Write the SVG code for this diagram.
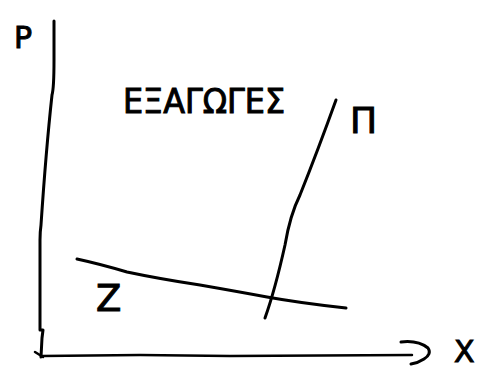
<svg xmlns="http://www.w3.org/2000/svg" width="490" height="376" viewBox="0 0 490 376">
  <style>
    .ln { fill: none; stroke: #000; stroke-width: 3; stroke-linecap: round; stroke-linejoin: round; }
    .thin { fill: none; stroke: #000; stroke-width: 2.5; stroke-linecap: round; stroke-linejoin: round; }
    .lbl { font-family: "DejaVu Sans", "Liberation Sans", sans-serif; fill: #000; stroke: #000; stroke-width: 1; }
  </style>
  <rect width="490" height="376" fill="#fff"/>
  <g id="connectors">
    <g id="y-axis">
      <path class="ln" d="M54,21 L54,60 Q54,88 52,95 Q46,150 41,225 Q40,232 40,240 L40,330 L43,330 L42,338 L41,357"/>
      <path class="thin" d="M35,352 L43,357"/>
    </g>
    <g id="x-axis">
      <path class="thin" d="M42,356 L140,355 L230,356 L412,355"/>
      <path class="ln" d="M401,342 Q418,340 428,348 Q432,354 424,359 Q418,363 411,364"/>
    </g>
    <path id="curve-z" class="ln" d="M77,259 Q100,264 127,272 Q160,279 200,285 Q240,292 267,297 Q300,303 346,308"/>
    <path id="curve-pi" class="ln" d="M336,100 Q318,150 300,195 Q290,215 285,245 Q275,290 265,318"/>
  </g>
  <g id="label-p"><text class="lbl" x="14" y="48" font-size="30">P</text></g>
  <g id="label-title"><text class="lbl" x="123" y="113" font-size="33" textLength="162" lengthAdjust="spacingAndGlyphs">ΕΞΑΓΩΓΕΣ</text></g>
  <g id="label-pi"><text class="lbl" x="350" y="133" font-size="36">Π</text></g>
  <g id="label-z"><text class="lbl" x="96" y="311" font-size="37">Z</text></g>
  <g id="label-x"><text class="lbl" x="454" y="362" font-size="30">X</text></g>
</svg>
